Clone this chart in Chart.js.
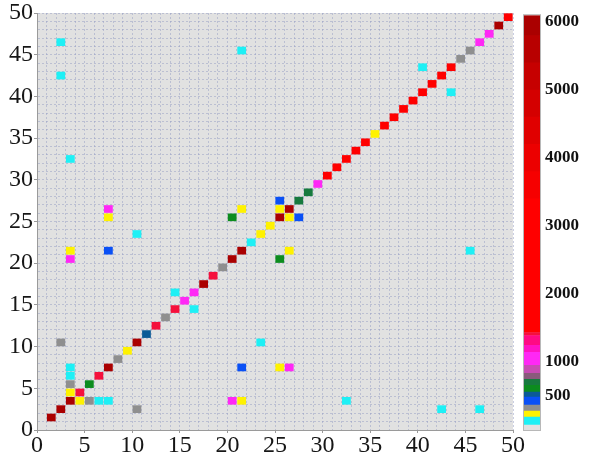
<!DOCTYPE html>
<html>
<head>
<meta charset="utf-8">
<script src="https://cdn.jsdelivr.net/npm/chart.js@4.4.1/dist/chart.umd.min.js"></script>
<style>
  html, body { margin: 0; padding: 0; background: #ffffff; }
  #wrap { position: relative; width: 596px; height: 458px; }
  #heat { position: absolute; left: 0; top: 0; }
  #bar { position: absolute; left: 515px; top: 0; }
</style>
</head>
<body>
<div id="wrap">
  <canvas id="heat" width="596" height="458"></canvas>
  <canvas id="bar" width="81" height="458"></canvas>
</div>
<script>
// Matrix cells: column index, row index and value (cell spans [i, i+1]).
const cellX = [
  1, 2, 3, 4, 5, 6, 7, 8, 9, 10, 11, 12, 13, 14, 15, 16, 17, 18, 19, 20,
  21, 22, 23, 24, 25, 26, 27, 28, 29, 30, 31, 32, 33, 34, 35, 36, 37, 38, 39, 40,
  41, 42, 43, 44, 45, 46, 47, 48, 49,
  3, 4, 3, 5, 3, 3, 6, 7, 2, 10, 14, 16, 3, 20, 3, 21, 7, 21, 10, 23,
  7, 25, 7, 26, 20, 25, 21, 26, 25, 26, 25, 27, 3, 32, 2, 42, 2, 46, 21, 45, 40, 43
];
const cellY = [
  1, 2, 3, 4, 5, 6, 7, 8, 9, 10, 11, 12, 13, 14, 15, 16, 17, 18, 19, 20,
  21, 22, 23, 24, 25, 26, 27, 28, 29, 30, 31, 32, 33, 34, 35, 36, 37, 38, 39, 40,
  41, 42, 43, 44, 45, 46, 47, 48, 49,
  4, 3, 5, 3, 6, 7, 3, 3, 10, 2, 16, 14, 20, 3, 21, 3, 21, 7, 23, 10,
  25, 7, 26, 7, 25, 20, 26, 21, 26, 25, 27, 25, 32, 3, 42, 2, 46, 2, 45, 21, 43, 40
];
const cellVal = [
  5900, 5900, 5900, 1410, 600, 1410, 5900, 320, 230, 5900, 520, 1410, 320, 1410, 1050, 1050, 5900, 1410, 320, 5900,
  5900, 130, 230, 230, 5900, 5900, 700, 700, 1050, 2500, 2500, 2500, 2500, 2500, 230, 2500, 2500, 2500, 2500, 2500,
  2500, 2500, 2500, 320, 320, 1050, 1050, 5900, 2500,
  230, 230, 320, 320, 130, 130, 130, 130, 320, 320, 130, 130, 1050, 1050, 230, 230, 420, 420, 130, 130,
  230, 230, 1050, 1050, 600, 600, 230, 230, 230, 230, 420, 420, 130, 130, 130, 130, 130, 130, 130, 130, 130, 130
];

// Discrete colour map: band edges (values) and the colour of each band.
const bandEdges = [0, 73, 190, 278, 366, 483, 556, 658, 746, 834, 951, 1141, 1244, 1390, 1434,
                   3400, 3800, 4200, 4600, 5000, 5400, 5800, 6100];
const bandColors = ['#e1e1e1', '#1ef0f5', '#fff200', '#8f8f8f', '#0a50f5', '#0b5a96', '#0c8c1e',
                    '#177a3e', '#8a5a7c', '#c84cb4', '#ff28f5', '#ff12c4', '#ff0a84', '#f5103c',
                    '#ff0000', '#f60000', '#ec0000', '#e00000', '#d40000', '#c60000', '#b80000', '#aa0000'];
const colorbarTicks = [500, 1000, 2000, 3000, 4000, 5000, 6000];
const axisMax = 50;

function colorFor(v) {
  for (let k = 0; k < bandColors.length; k++) {
    if (v >= bandEdges[k] && v < bandEdges[k + 1]) return bandColors[k];
  }
  return bandColors[bandColors.length - 1];
}

const CELL_INSET = 0.04;
const cellPoints = cellX.map((x, i) => ({ x: x + 0.5, y: [cellY[i] + CELL_INSET, cellY[i] + 1 - CELL_INSET] }));
const cellColors = cellVal.map(colorFor);

const serif = 'Liberation Serif, Times New Roman, serif';
const gridColor = 'rgba(150,158,195,0.5)';
const axisColor = '#9a9a9a';
const tickColorFn = ctx => (ctx.tick && ctx.tick.value % 5 === 0) ? axisColor : 'rgba(0,0,0,0)';

// Fill the plot area with the lowest colour of the map.
const plotBackground = {
  id: 'plotBackground',
  beforeDraw(chart) {
    const { ctx, chartArea: a } = chart;
    ctx.save();
    ctx.fillStyle = bandColors[0];
    ctx.fillRect(a.left, a.top, a.right - a.left, a.bottom - a.top);
    ctx.restore();
  }
};

function axisOptions(fit) {
  return {
    type: 'linear',
    min: 0,
    max: axisMax,
    offset: false,
    ticks: {
      stepSize: 1,
      autoSkip: false,
      maxRotation: 0,
      padding: 1,
      color: '#161616',
      font: { family: serif, size: 24, lineHeight: 1 },
      callback: v => (v % 5 === 0 ? String(v) : '')
    },
    grid: { offset: false, color: gridColor, lineWidth: 1, tickLength: 3, tickColor: tickColorFn, tickWidth: 1 },
    border: { display: true, color: axisColor, width: 1, dash: [2, 2] },
    afterFit: fit
  };
}

new Chart(document.getElementById('heat'), {
  type: 'bar',
  data: {
    datasets: [{
      data: cellPoints,
      backgroundColor: cellColors,
      borderWidth: 0,
      barPercentage: 0.92,
      categoryPercentage: 1
    }]
  },
  options: {
    responsive: false,
    animation: false,
    layout: { padding: { top: 13, right: 83, left: 0, bottom: 0 } },
    plugins: { legend: { display: false }, tooltip: { enabled: false } },
    scales: {
      x: axisOptions(s => { s.height = 28; }),
      y: axisOptions(s => { s.width = 37; })
    }
  },
  plugins: [plotBackground]
});

// Colour bar: one floating bar per band of the map.
const barOutline = {
  id: 'barOutline',
  afterDraw(chart) {
    const { ctx, chartArea: a } = chart;
    ctx.save();
    ctx.strokeStyle = '#b8b8b8';
    ctx.lineWidth = 1;
    ctx.strokeRect(a.left - 0.5, a.top - 0.5, a.right - a.left + 1, a.bottom - a.top + 1);
    ctx.restore();
  }
};

new Chart(document.getElementById('bar'), {
  type: 'bar',
  data: {
    labels: [''],
    datasets: bandColors.map((c, k) => ({
      data: [[bandEdges[k], bandEdges[k + 1]]],
      backgroundColor: c,
      borderWidth: 0,
      barPercentage: 1,
      categoryPercentage: 1,
      grouped: false
    }))
  },
  options: {
    responsive: false,
    animation: false,
    layout: { padding: { left: 9, top: 13, bottom: 28, right: 0 } },
    plugins: { legend: { display: false }, tooltip: { enabled: false } },
    scales: {
      x: { display: false },
      y: {
        position: 'right',
        min: bandEdges[0],
        max: bandEdges[bandEdges.length - 1],
        z: 1,
        afterBuildTicks: s => { s.ticks = colorbarTicks.map(v => ({ value: v })); },
        afterFit: s => { s.width = 56; },
        ticks: {
          padding: 5,
          color: '#111111',
          font: { family: serif, size: 17, weight: 'bold' },
          callback: v => String(v)
        },
        grid: { drawTicks: false, color: 'rgba(40,0,0,0.45)', lineWidth: 1 },
        border: { display: false, dash: [3, 10] }
      }
    }
  },
  plugins: [barOutline]
});
</script>
</body>
</html>
